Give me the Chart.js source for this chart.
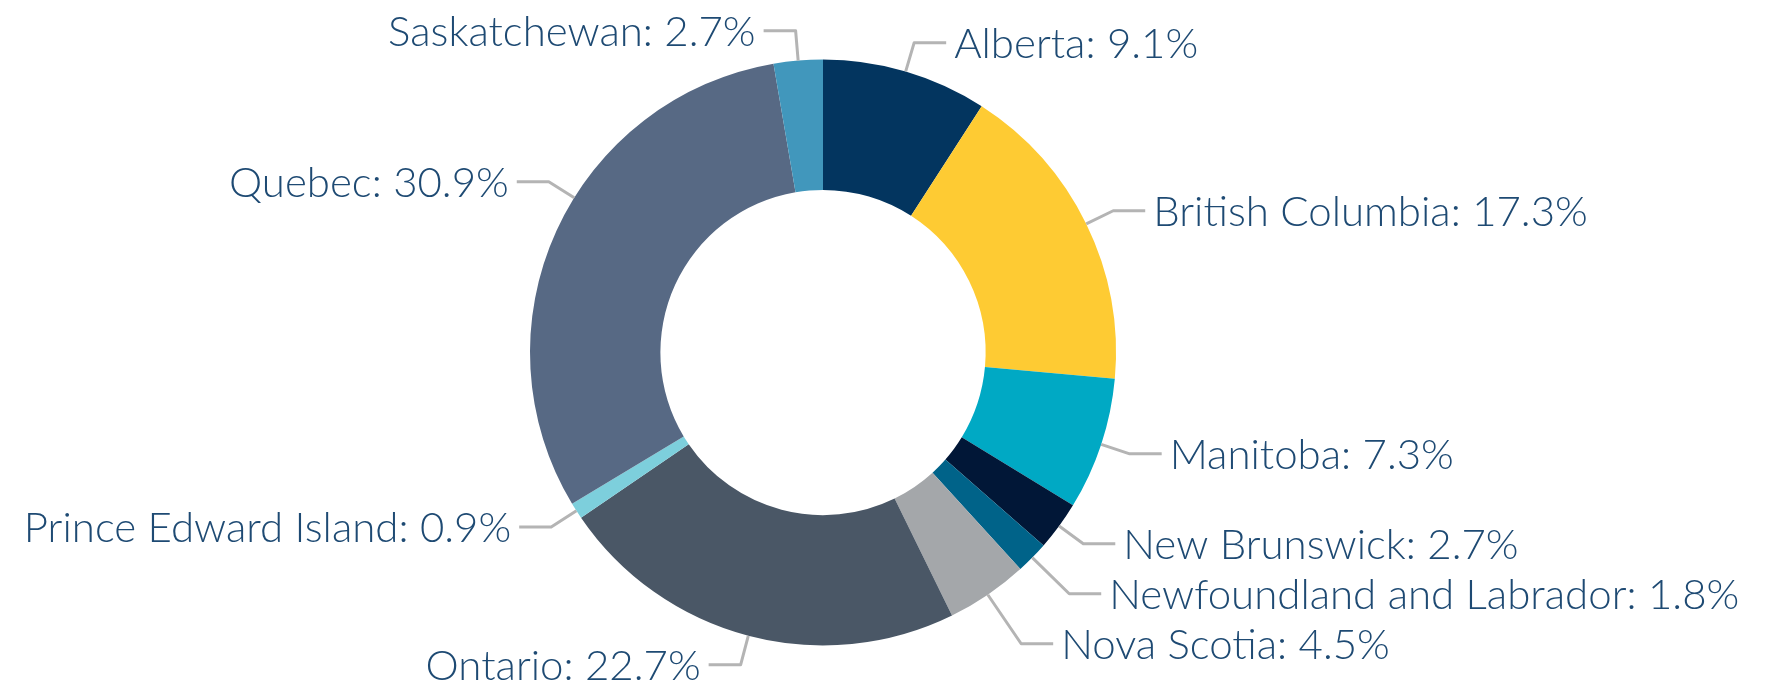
<!DOCTYPE html>
<html>
<head>
<meta charset="utf-8">
<script src="https://cdn.jsdelivr.net/npm/chart.js@4/dist/chart.umd.min.js"></script>
<style>
  body { margin: 0; background: #fff; }
  #wrap { width: 1778px; height: 684px; position: relative; }
</style>
</head>
<body>
<div id="wrap"><canvas id="provinceShare"></canvas></div>
<script>
const provinces = [
  "Alberta",
  "British Columbia",
  "Manitoba",
  "New Brunswick",
  "Newfoundland and Labrador",
  "Nova Scotia",
  "Ontario",
  "Prince Edward Island",
  "Quebec",
  "Saskatchewan"
];
const shares = [9.1, 17.3, 7.3, 2.7, 1.8, 4.5, 22.7, 0.9, 30.9, 2.7];
const sliceColors = [
  "#03355f",
  "#fecb33",
  "#00a9c4",
  "#011737",
  "#006389",
  "#a4a7aa",
  "#4a5766",
  "#7dcfdc",
  "#576984",
  "#4197bc"
];

// leader anchor moved along the arc (degrees, clockwise)
const anchorNudge = { "Quebec": 7.3 };

const leaderLabels = {
  id: "leaderLabels",
  afterDatasetsDraw(chart) {
    const ctx = chart.ctx;
    const meta = chart.getDatasetMeta(0);
    const fontSize = 42;
    const ext = 30, run = 32, gap = 8, minGap = 50;

    const items = meta.data.map((arc, i) => {
      const nudge = (anchorNudge[provinces[i]] || 0) * Math.PI / 180;
      const mid = (arc.startAngle + arc.endAngle) / 2 + nudge;
      const c = Math.cos(mid), s = Math.sin(mid);
      const r = arc.outerRadius;
      return {
        i, c, s,
        sx: arc.x + c * r, sy: arc.y + s * r,
        ex: arc.x + c * (r + ext), ey: arc.y + s * (r + ext),
        right: c >= 0
      };
    });
    items.forEach(it => { it.ly = it.ey; it.lx = it.ex; });

    // push overlapping labels down on each side
    [true, false].forEach(side => {
      const group = items.filter(it => it.right === side).sort((a, b) => a.ey - b.ey);
      for (let k = 1; k < group.length; k++) {
        const prev = group[k - 1], cur = group[k];
        if (cur.ly < prev.ly + minGap) {
          const dy = prev.ly + minGap - cur.ly;
          cur.ly += dy;
          if (Math.abs(cur.s) > 0.2) cur.lx += Math.max(-25, Math.min(25, dy * cur.c / cur.s));
        }
      }
    });

    ctx.save();
    ctx.lineWidth = 3;
    ctx.strokeStyle = "#b4b4b4";
    ctx.lineJoin = "round";
    ctx.font = "300 " + fontSize + "px Lato";
    ctx.fillStyle = "#1e4a73";
    ctx.textBaseline = "alphabetic";
    items.forEach(it => {
      const dir = it.right ? 1 : -1;
      const hx = it.lx + dir * run;
      ctx.beginPath();
      ctx.moveTo(it.sx, it.sy);
      ctx.lineTo(it.lx, it.ly);
      ctx.lineTo(hx, it.ly);
      ctx.stroke();
      ctx.textAlign = it.right ? "left" : "right";
      const text = provinces[it.i] + ": " + shares[it.i].toFixed(1) + "%";
      ctx.fillText(text, hx + dir * gap, it.ly + fontSize * 0.36);
    });
    ctx.restore();
  }
};

const ctx = document.getElementById("provinceShare");

const provinceShare = new Chart(ctx, {
  type: "doughnut",
  data: {
    labels: provinces,
    datasets: [
      {
        data: shares,
        backgroundColor: sliceColors,
        borderWidth: 0,
        hoverOffset: 0
      }
    ]
  },
  options: {
    responsive: true,
    maintainAspectRatio: false,
    animation: false,
    cutout: "55.5%",
    layout: {
      padding: {
        left: 530,
        right: 662,
        top: 59,
        bottom: 38
      }
    },
    plugins: {
      legend: { display: false },
      tooltip: { enabled: false }
    }
  },
  plugins: [leaderLabels]
});
</script>
</body>
</html>
